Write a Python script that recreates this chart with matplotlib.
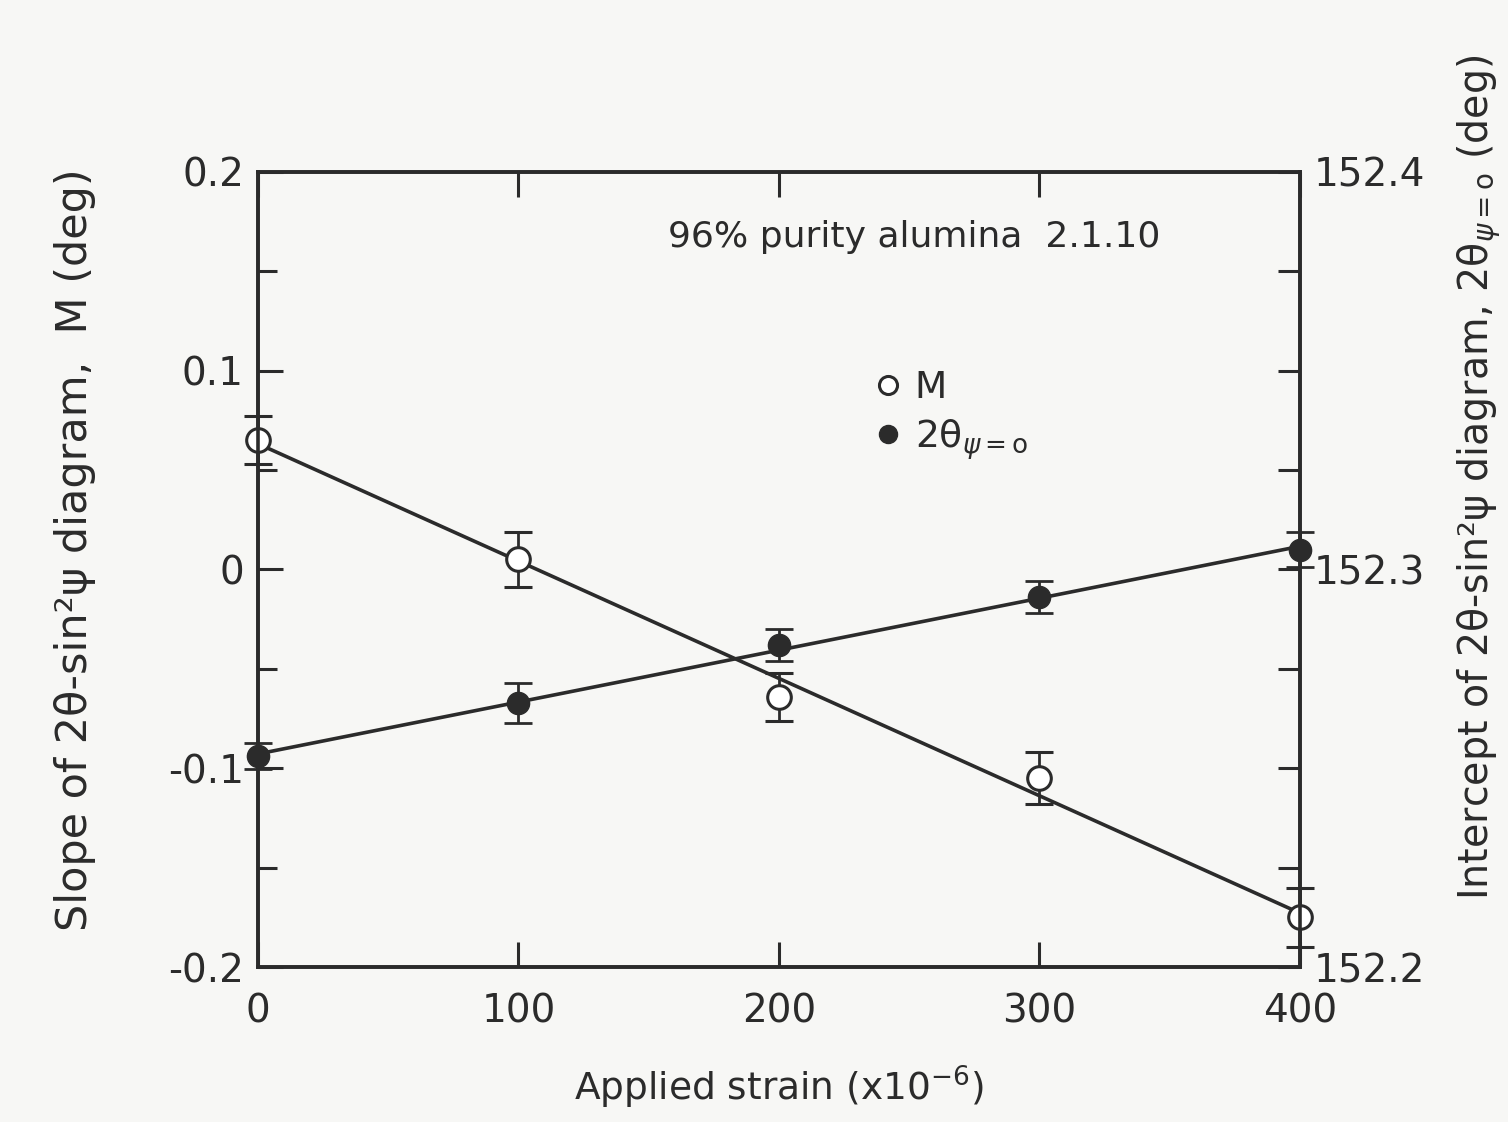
import numpy as np
import matplotlib.pyplot as plt
from matplotlib.lines import Line2D

strain = [0, 100, 200, 300, 400]

slope_m = [0.065, 0.005, -0.064, -0.105, -0.175]
slope_err = [0.012, 0.014, 0.012, 0.013, 0.015]

intercept = [152.253, 152.2665, 152.281, 152.293, 152.305]
intercept_err = [0.0033, 0.005, 0.004, 0.004, 0.0045]

ink = "#2b2b2b"
bg = "#f7f7f5"

plt.rcParams["font.family"] = ["DejaVu Sans"]
plt.rcParams["mathtext.fontset"] = "dejavusans"
plt.rcParams["text.color"] = ink
plt.rcParams["axes.edgecolor"] = ink
plt.rcParams["axes.labelcolor"] = ink
plt.rcParams["xtick.color"] = ink
plt.rcParams["ytick.color"] = ink

fig = plt.figure(figsize=(15.08, 11.22), dpi=100, facecolor=bg)
ax = fig.add_axes([0.171, 0.138, 0.691, 0.709], facecolor=bg)
ax2 = ax.twinx()

# fitted lines
fit_m = np.polyfit(strain, slope_m, 1)
fit_i = np.polyfit(strain, intercept, 1)
xs = np.array([0, 400])
ax.plot(xs, np.polyval(fit_m, xs), color=ink, lw=2.6, zorder=2)
ax2.plot(xs, np.polyval(fit_i, xs), color=ink, lw=2.6, zorder=2)

ax.errorbar(strain, slope_m, yerr=slope_err, fmt="o", ms=17, mfc="white",
            mec=ink, mew=2.2, ecolor=ink, elinewidth=2, capsize=10,
            capthick=2, zorder=3, clip_on=False)
ax2.errorbar(strain, intercept, yerr=intercept_err, fmt="o", ms=16,
             mfc=ink, mec=ink, ecolor=ink, elinewidth=2, capsize=10,
             capthick=2, zorder=3, clip_on=False)

ax.set_xlim(0, 400)
ax.set_ylim(-0.2, 0.2)
ax2.set_ylim(152.2, 152.4)

ax.set_xticks([0, 100, 200, 300, 400])
ax.set_xticklabels(["0", "100", "200", "300", "400"])
ax.set_yticks([-0.2, -0.1, 0, 0.1, 0.2])
ax.set_yticklabels(["-0.2", "-0.1", "0", "0.1", "0.2"])
ax.set_yticks([-0.15, -0.05, 0.05, 0.15], minor=True)
ax2.set_yticks([152.2, 152.3, 152.4])
ax2.set_yticklabels(["152.2", "152.3", "152.4"])
ax2.set_yticks([152.225, 152.25, 152.275, 152.325, 152.35, 152.375], minor=True)

ax.tick_params(axis="both", which="major", direction="in", length=18,
               width=2.2, labelsize=28, top=True)
ax.tick_params(axis="y", which="minor", direction="in", length=14, width=2.2)
ax.tick_params(axis="y", which="major", pad=10)
ax.tick_params(axis="x", which="major", pad=18)
ax2.tick_params(axis="y", which="both", direction="in", length=16, width=2.2,
                labelsize=28, pad=10)

for sp in ax.spines.values():
    sp.set_linewidth(2.6)
for sp in ax2.spines.values():
    sp.set_linewidth(2.6)

ax.set_xlabel("Applied strain (x10$^{-6}$)", fontsize=27, labelpad=24)
fig.text(0.05, 0.51, "Slope of 2θ-sin²ψ diagram,  M (deg)",
         rotation=90, ha="center", va="center", fontsize=31)
fig.text(0.981, 0.575,
         r"Intercept of 2θ-sin²ψ diagram, 2θ$_{\psi=\mathrm{o}}$ (deg)",
         rotation=90, ha="center", va="center", fontsize=28.5)

ax.text(0.63, 0.918, "96% purity alumina  2.1.10", transform=ax.transAxes,
        ha="center", va="center", fontsize=26)

handles = [
    Line2D([], [], ls="none", marker="o", ms=13, mfc="white", mec=ink, mew=2.2),
    Line2D([], [], ls="none", marker="o", ms=13, mfc=ink, mec=ink),
]
ax.legend(handles, ["M", r"2θ$_{\psi=\mathrm{o}}$"], loc="upper left",
          bbox_to_anchor=(0.58, 0.77), frameon=False, fontsize=27,
          handlelength=0.6, handletextpad=0.4, labelspacing=0.3,
          borderaxespad=0)

fig.savefig("out.png", dpi=100, facecolor=bg)
